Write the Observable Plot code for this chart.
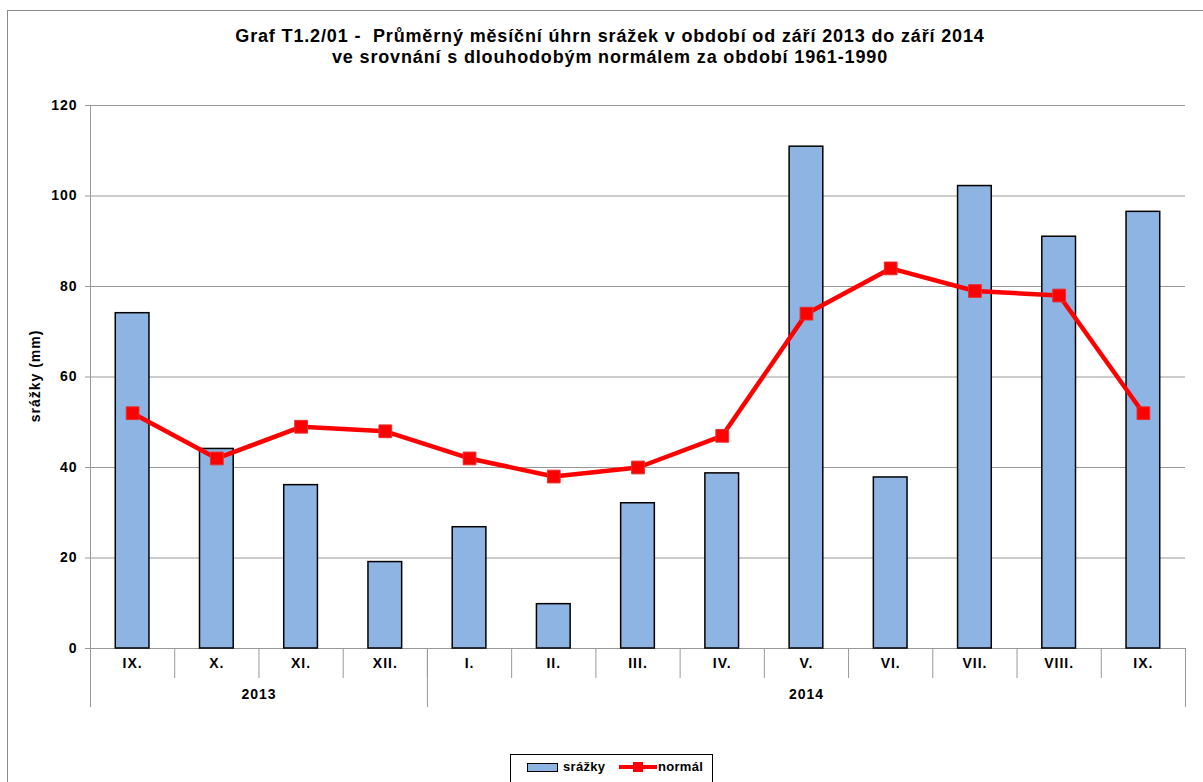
<!DOCTYPE html>
<html><head><meta charset="utf-8">
<script src="https://cdn.jsdelivr.net/npm/d3@7"></script>
<script src="https://cdn.jsdelivr.net/npm/@observablehq/plot@0.6"></script>
<style>
body{margin:0;background:#fff;font-family:"Liberation Sans",Arial,sans-serif;}
#wrap{position:relative;width:1203px;height:782px;overflow:hidden;}
#frame{position:absolute;left:7px;top:10px;width:1210px;height:800px;border:1px solid #8a8a8a;box-sizing:border-box;}
#title{position:absolute;left:0;top:26px;width:1220px;text-align:center;font-weight:bold;font-size:18px;letter-spacing:0.85px;line-height:21px;color:#000;white-space:pre;}
#chart{position:absolute;left:0;top:90px;}
#ylab{position:absolute;left:35px;top:376px;transform:translate(-50%,-50%) rotate(-90deg);font-weight:bold;font-size:14px;letter-spacing:1px;white-space:nowrap;}
#legend{position:absolute;left:510px;top:754px;width:203px;height:32px;border:1px solid #000;box-sizing:border-box;font-weight:bold;font-size:13px;letter-spacing:0.3px;}
.sw{position:absolute;}
</style></head>
<body><div id="wrap">
<div id="frame"></div>
<div id="title">Graf T1.2/01 -  Průměrný měsíční úhrn srážek v období od září 2013 do září 2014
ve srovnání s dlouhodobým normálem za období 1961-1990</div>
<div id="chart"></div>
<div id="ylab">srážky (mm)</div>
<div id="legend">
  <div class="sw" style="left:16px;top:8px;width:31px;height:9px;background:#8EB4E3;border:1.5px solid #000;box-sizing:border-box;"></div>
  <div class="sw" style="left:52px;top:4px;">srážky</div>
  <div class="sw" style="left:108px;top:10px;width:38px;height:4px;background:#ff0000;"></div>
  <div class="sw" style="left:122px;top:7px;width:10px;height:10px;background:#ff0000;"></div>
  <div class="sw" style="left:147px;top:4px;">normál</div>
</div>
</div>
<script>
const months = ["IX.","X.","XI.","XII.","I.","II.","III.","IV.","V.","VI.","VII.","VIII.","IX."];
const years = ["2013","2014"];
const yearStart = [0, 4];
const yearEnd = [4, 13];
const srazky = [74.1, 44.1, 36.1, 19.1, 26.8, 9.8, 32.1, 38.7, 110.9, 37.8, 102.2, 91.0, 96.5];
const normal = [52, 42, 49, 48, 42, 38, 40, 47, 74, 84, 79, 78, 52];
const yTicks = [0, 20, 40, 60, 80, 100, 120];

const data = months.map((m, i) => ({i, m, s: srazky[i], n: normal[i]}));
const yearData = years.map((y, k) => ({y, mid: (yearStart[k] + yearEnd[k]) / 2}));
const bounds = d3.range(months.length + 1);
const yearBounds = [...new Set([...yearStart, ...yearEnd])];

const gray = "#999";
const chart = Plot.plot({
  width: 1203,
  height: 640,
  marginLeft: 90,
  marginRight: 18,
  marginTop: 15,
  marginBottom: 82,
  style: {fontFamily: "Liberation Sans, Arial, sans-serif", fontSize: "14px", fontWeight: "bold", letterSpacing: "1px", color: "#000", background: "transparent"},
  x: {domain: [0, months.length], axis: null},
  y: {domain: [0, 120], axis: null},
  marks: [
    Plot.gridY({ticks: yTicks.filter(d => d > 0), stroke: gray, strokeOpacity: 1, strokeWidth: 1}),
    Plot.axisY({ticks: yTicks, tickSize: 5, tickPadding: 8, stroke: gray, strokeOpacity: 1, label: null, fontWeight: "bold"}),
    Plot.ruleX([0], {y1: 0, y2: 120, stroke: gray}),
    Plot.axisX({ticks: bounds, tickSize: 30, tickFormat: () => "", stroke: gray, strokeOpacity: 1, label: null}),
    Plot.axisX({ticks: yearBounds, tickSize: 59, tickFormat: () => "", stroke: gray, strokeOpacity: 1, label: null}),
    Plot.axisX({ticks: data.map(d => d.i + 0.5), tickSize: 0, tickPadding: 10, tickFormat: d => months[Math.floor(d)], label: null, fontWeight: "bold"}),
    Plot.axisX({ticks: yearData.map(d => d.mid), tickSize: 0, tickPadding: 41, tickFormat: d => yearData.find(e => e.mid === d).y, label: null, fontWeight: "bold"}),
    Plot.ruleY([0], {stroke: gray}),
    Plot.rectY(data, {x1: d => d.i + 0.3, x2: d => d.i + 0.7, y: "s", fill: "#8EB4E3", stroke: "#000", strokeWidth: 1.5}),
    Plot.line(data, {x: d => d.i + 0.5, y: "n", stroke: "#ff0000", strokeWidth: 4.5}),
    Plot.dot(data, {x: d => d.i + 0.5, y: "n", symbol: "square", r: 7.2, fill: "#ff0000", stroke: "#e83030", strokeWidth: 1})
  ]
});
document.getElementById("chart").appendChild(chart);
</script>
</body></html>
